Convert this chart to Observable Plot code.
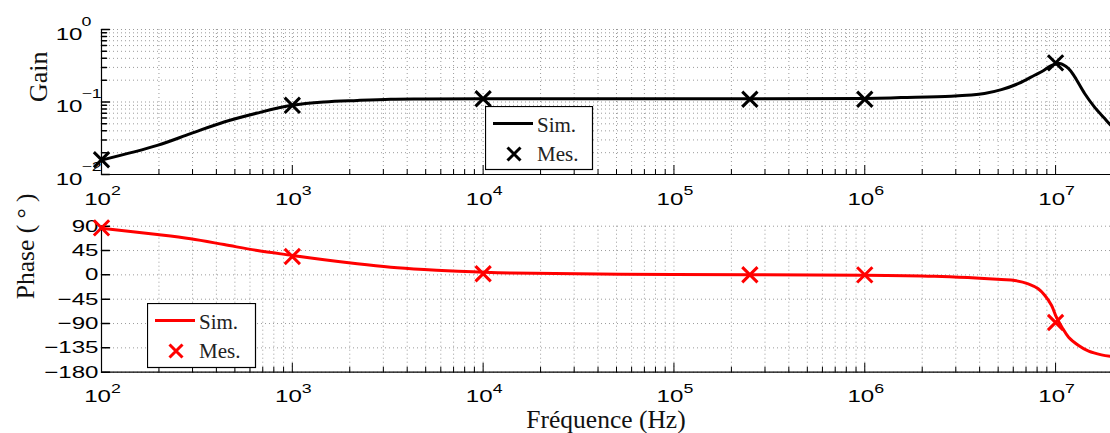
<!DOCTYPE html>
<html><head><meta charset="utf-8">
<script src="https://cdn.jsdelivr.net/npm/d3@7"></script>
<script src="https://cdn.jsdelivr.net/npm/@observablehq/plot@0.6"></script>
<style>
html,body{margin:0;padding:0;background:#fff;}
#chart{position:relative;width:1110px;height:433px;overflow:hidden;background:#fff;}
#chart > svg{position:absolute;left:0;}
</style></head>
<body><div id="chart"></div>
<script>
// ---------- data ----------
const gainSimFreq  = [100, 196, 293, 439, 656, 1000, 1470, 2190, 3280, 4900, 10000, 100000, 1000000, 1550000, 2840000, 4240000, 5200000, 6400000, 7760000, 8700000, 9550000, 10500000, 11700000, 12600000, 14200000, 16000000, 18100000, 19400000];
const gainSimValue = [0.0158, 0.0252, 0.0366, 0.053, 0.0705, 0.090, 0.100, 0.105, 0.109, 0.110, 0.111, 0.111, 0.112, 0.115, 0.12, 0.131, 0.148, 0.18, 0.234, 0.274, 0.321, 0.34, 0.289, 0.222, 0.131, 0.085, 0.059, 0.048];
const gainMesFreq  = [100, 1000, 10000, 250000, 1000000, 10000000];
const gainMesValue = [0.016, 0.090, 0.111, 0.109, 0.109, 0.346];

const phaseSimFreq  = [100, 196, 293, 439, 656, 1000, 1470, 2190, 3280, 4900, 7400, 10000, 14000, 100000, 1000000, 2320000, 3470000, 5200000, 6110000, 7190000, 8110000, 8790000, 9530000, 10100000, 10800000, 11700000, 13200000, 14900000, 17400000, 19400000];
const phaseSimValue = [86, 74.6, 66.7, 56, 45, 36, 27.8, 20.4, 14.2, 10, 6.8, 4.9, 3.5, 0.5, -0.5, -2.5, -5, -8.6, -10.4, -16.5, -25.8, -38.2, -56.7, -78.3, -96.8, -115.3, -130.7, -141.2, -147.9, -150.4];
const phaseMesFreq  = [100, 1000, 10000, 250000, 1000000, 10000000];
const phaseMesValue = [87, 34, 2, 0.3, 0, -88];

const decadeTicks = [1e2, 1e3, 1e4, 1e5, 1e6, 1e7];
const decadeExponents = ["2", "3", "4", "5", "6", "7"];
const gainTicks = [0.01, 0.1, 1];
const gainExponents = ["\u22122", "\u22121", "0"];
const phaseTicks = [-180, -135, -90, -45, 0, 45, 90];
const phaseTickLabels = ["\u2212180", "\u2212135", "\u221290", "\u221245", "0", "45", "90"];
const legendLabels = ["Sim.", "Mes."];
const gainLabel = "Gain";
const phaseLabel = "Phase ( \u00B0 )";
const freqLabel = "Fr\u00E9quence (Hz)";

// ---------- helpers ----------
const gainSim = gainSimFreq.map((f, i) => ({f, v: gainSimValue[i]}));
const gainMes = gainMesFreq.map((f, i) => ({f, v: gainMesValue[i]}));
const phaseSim = phaseSimFreq.map((f, i) => ({f, v: phaseSimValue[i]}));
const phaseMes = phaseMesFreq.map((f, i) => ({f, v: phaseMesValue[i]}));

const X_DOMAIN = [100, 1.94e7];
const xAll = d3.scaleLog().domain(X_DOMAIN).ticks();
const xMinor = xAll.filter(d => !decadeTicks.includes(d));
const gAll = d3.scaleLog().domain([0.01, 1]).ticks();
const gMinor = gAll.filter(d => !gainTicks.some(t => Math.abs(t - d) < 1e-9));

const SANS = "Liberation Sans, Arial, Helvetica, sans-serif";
const SERIF = "Liberation Serif, Times New Roman, serif";
const FS = 17, FS_SUP = 12.5;
const grid = {stroke: "#8a8a8a", strokeWidth: 1, strokeDasharray: "1,3", strokeOpacity: 0.85};
const tickUp = {draw(ctx, l) { ctx.moveTo(0, 0); ctx.lineTo(0, -l); }};

function xAxisMarks() {
  return [
    Plot.vector(decadeTicks, {x: d => d, frameAnchor: "bottom", length: 9, rotate: 0, anchor: "start", shape: tickUp, stroke: "#000", strokeWidth: 1}),
    Plot.vector(xMinor, {x: d => d, frameAnchor: "bottom", length: 5, rotate: 0, anchor: "start", shape: tickUp, stroke: "#000", strokeWidth: 1}),
    Plot.text(decadeTicks, {x: d => d, frameAnchor: "bottom", text: () => "10", textAnchor: "end", lineAnchor: "bottom", dx: 9.5, dy: 30, fontSize: FS, fontFamily: SANS, fill: "#000"}),
    Plot.text(decadeTicks, {x: d => d, frameAnchor: "bottom", text: (d, i) => decadeExponents[i], textAnchor: "start", lineAnchor: "bottom", dx: 9.5, dy: 20.5, fontSize: FS_SUP, fontFamily: SANS, fill: "#000"})
  ];
}

// widen the sans-serif tick labels horizontally about their anchor point
function stretch(svg) {
  svg.querySelectorAll("text").forEach(t => {
    const ff = t.closest("[font-family]");
    if (!ff || !ff.getAttribute("font-family").startsWith("Liberation Sans")) return;
    const tr = t.getAttribute("transform") || "";
    t.setAttribute("transform", `${tr} scale(1.42,1)`);
  });
}

// ---------- gain panel ----------
const gainPlot = Plot.plot({
  width: 1110, height: 210,
  marginLeft: 101, marginRight: 0, marginTop: 29, marginBottom: 36,
  x: {type: "log", domain: X_DOMAIN, axis: null},
  y: {type: "log", domain: [0.01, 1], axis: null},
  style: {background: "transparent", overflow: "visible"},
  marks: [
    Plot.gridX(xAll, grid),
    Plot.gridY(gAll, grid),
    Plot.ruleY([0.01], {stroke: "#000", strokeWidth: 1.2}),
    Plot.ruleX([100], {stroke: "#000", strokeWidth: 1.2}),
    ...xAxisMarks(),
    Plot.vector(gainTicks, {y: d => d, frameAnchor: "left", length: 8, rotate: 90, anchor: "start", shape: tickUp, stroke: "#000"}),
    Plot.vector(gMinor, {y: d => d, frameAnchor: "left", length: 5, rotate: 90, anchor: "start", shape: tickUp, stroke: "#000"}),
    Plot.text(gainTicks, {y: d => d, frameAnchor: "left", text: () => "10", textAnchor: "end", lineAnchor: "bottom", dx: -19, dy: 10, fontSize: FS, fontFamily: SANS, fill: "#000"}),
    Plot.text(gainTicks, {y: d => d, frameAnchor: "left", text: (d, i) => gainExponents[i], textAnchor: "start", lineAnchor: "bottom", dx: -20, dy: -4, fontSize: FS_SUP, fontFamily: SANS, fill: "#000"}),
    Plot.text([gainLabel], {frameAnchor: "left", text: d => d, rotate: -90, dx: -63, fontSize: 26, fontFamily: SERIF, fill: "#111"}),
    Plot.line(gainSim, {x: "f", y: "v", stroke: "#000", strokeWidth: 3, curve: "catmull-rom", clip: true}),
    Plot.dot(gainMes, {x: "f", y: "v", symbol: "times", r: 7, stroke: "#000", fill: "none", strokeWidth: 3})
  ]
});

// ---------- phase panel ----------
const phasePlot = Plot.plot({
  width: 1110, height: 223,
  marginLeft: 101, marginRight: 0, marginTop: 15.7, marginBottom: 61.3,
  x: {type: "log", domain: X_DOMAIN, axis: null},
  y: {domain: [-180, 90], axis: null},
  style: {background: "transparent", overflow: "visible"},
  marks: [
    Plot.gridX(xAll, grid),
    Plot.gridY(phaseTicks, grid),
    Plot.ruleY([-180], {stroke: "#000", strokeWidth: 1.2}),
    Plot.ruleX([100], {stroke: "#000", strokeWidth: 1.2}),
    ...xAxisMarks(),
    Plot.vector(phaseTicks, {y: d => d, frameAnchor: "left", length: 8, rotate: 90, anchor: "start", shape: tickUp, stroke: "#000"}),
    Plot.text(phaseTicks, {y: d => d, frameAnchor: "left", text: (d, i) => phaseTickLabels[i], textAnchor: "end", lineAnchor: "middle", dx: -3, fontSize: FS, fontFamily: SANS, fill: "#000"}),
    Plot.text([phaseLabel], {frameAnchor: "left", text: d => d, rotate: -90, dx: -76, fontSize: 25.5, fontFamily: SERIF, fill: "#111"}),
    Plot.text([freqLabel], {frameAnchor: "bottom", text: d => d, lineAnchor: "bottom", dy: 55.3, fontSize: 25.5, fontFamily: SERIF, fill: "#111"}),
    Plot.line(phaseSim, {x: "f", y: "v", stroke: "#ff0000", strokeWidth: 3, curve: "catmull-rom", clip: true}),
    Plot.dot(phaseMes, {x: "f", y: "v", symbol: "times", r: 7, stroke: "#ff0000", fill: "none", strokeWidth: 3})
  ]
});

const chart = document.getElementById("chart");
gainPlot.style.top = "0px";
phasePlot.style.top = "210px";
chart.appendChild(gainPlot);
chart.appendChild(phasePlot);
stretch(gainPlot);
stretch(phasePlot);

// ---------- legends ----------
const NS = "http://www.w3.org/2000/svg";
function legend(left, top, w, h, color) {
  const svg = document.createElementNS(NS, "svg");
  svg.setAttribute("width", w + 2); svg.setAttribute("height", h + 2);
  svg.style.left = left + "px"; svg.style.top = top + "px";
  svg.innerHTML =
    `<rect x="0.5" y="0.5" width="${w}" height="${h}" fill="#fff" stroke="#000" stroke-width="1.2"/>` +
    `<line x1="8" x2="48" y1="17.5" y2="17.5" stroke="${color}" stroke-width="3"/>` +
    `<path d="M22.5,41.5L35.5,54.5M35.5,41.5L22.5,54.5" stroke="${color}" stroke-width="3" fill="none"/>` +
    `<text x="52" y="25.5" font-family="${SERIF}" font-size="21" fill="#222">${legendLabels[0]}</text>` +
    `<text x="52" y="55" font-family="${SERIF}" font-size="21" fill="#222">${legendLabels[1]}</text>`;
  chart.appendChild(svg);
}
legend(485, 106, 107, 63, "#000");
legend(147, 303, 108, 64, "#ff0000");
</script>
</body></html>
